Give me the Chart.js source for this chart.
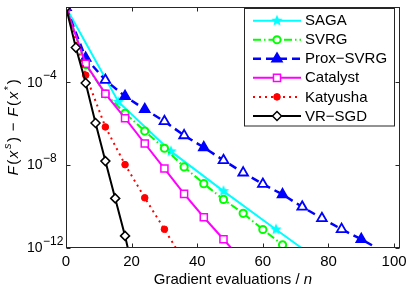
<!DOCTYPE html>
<html lang="en">
<head>
<meta charset="UTF-8">
<title>Convergence of variance reduced methods</title>
<script src="https://cdn.jsdelivr.net/npm/chart.js"></script>
<style>
    html, body { margin: 0; padding: 0; background: #fff; }
    canvas { display: block; }
</style>
</head>
<body>
<canvas id="chart" width="409" height="287"></canvas>
<script>
// values, y given as log10 of F(x^s) - F(x*)
// the last point of every series is where the line leaves the axes (no marker)
const sagaX = [0, 16, 32, 48, 64, 71.6];
const sagaLog = [-0.41, -4.97, -7.36, -9.28, -11.13, -12];
const svrgX = [0, 6, 12, 18, 24, 30, 36, 42, 48, 54, 60, 66, 67.1];
const svrgLog = [-0.41, -3.17, -4.58, -5.52, -6.38, -7.21, -8.11, -8.92, -9.68, -10.35, -11.13, -11.87, -12];
const proxX = [0, 6, 12, 18, 24, 30, 36, 42, 48, 54, 60, 66, 72, 78, 84, 90, 94.5];
const proxLog = [-0.41, -2.85, -3.92, -4.7, -5.33, -5.91, -6.59, -7.17, -7.79, -8.39, -8.94, -9.44, -10.04, -10.59, -11.12, -11.6, -12];
const catalystX = [0, 6, 12, 18, 24, 30, 36, 42, 48, 50.2];
const catalystLog = [-0.41, -3.13, -4.58, -5.76, -6.98, -8.19, -9.41, -10.54, -11.6, -12];
const katyushaX = [0, 6, 12, 18, 24, 30, 33.4];
const katyushaLog = [-0.41, -3.68, -6.18, -8.0, -9.6, -11.12, -12];
const vrsgdX = [0, 3, 6, 9, 12, 15, 18, 18.8];
const vrsgdLog = [-0.41, -2.35, -4.06, -5.99, -7.83, -9.63, -11.44, -12];

const xTicks = [0, 20, 40, 60, 80, 100];
const yTickExp = [-12, -8, -4];

const frameColor = '#262626';
const fontFamily = '"Liberation Sans", Arial, Helvetica, sans-serif';

// filled five point star like matlab's pentagram
function starImage(color, r) {
    const c = document.createElement('canvas');
    const s = Math.ceil(r * 2 + 2);
    c.width = s;
    c.height = s;
    const g = c.getContext('2d');
    g.beginPath();
    for (let k = 0; k < 10; k++) {
        const rr = k % 2 ? r * 0.45 : r;
        const a = -Math.PI / 2 + k * Math.PI / 5;
        g.lineTo(s / 2 + rr * Math.cos(a), s / 2 + rr * Math.sin(a));
    }
    g.closePath();
    g.fillStyle = color;
    g.fill();
    return c;
}

// prox-svrg markers that come out hollow in the original
const proxOpen = [2, 5, 6, 8, 9, 10, 12, 13, 14];

const series = [
    { label: 'SAGA', xs: sagaX, logs: sagaLog, color: '#00ffff', width: 2, dash: [],
      mark: starImage('#00ffff', 6), r: 5, mw: 1, fill: '#00ffff' },
    { label: 'SVRG', xs: svrgX, logs: svrgLog, color: '#00ff00', width: 2, dash: [8, 3, 1.5, 3],
      mark: 'circle', r: 3.6, mw: 2, fill: '#ffffff' },
    { label: 'Prox\u2212SVRG', xs: proxX, logs: proxLog, color: '#0000ff', width: 2.5, dash: [8, 5],
      mark: 'triangle', r: 5.6, mw: 1.8, fill: '#0000ff',
      fillAt: i => proxOpen.includes(i) ? '#ffffff' : '#0000ff' },
    { label: 'Catalyst', xs: catalystX, logs: catalystLog, color: '#ff00ff', width: 2, dash: [],
      mark: 'rect', r: 5, mw: 1.5, fill: '#ffffff' },
    { label: 'Katyusha', xs: katyushaX, logs: katyushaLog, color: '#ff0000', width: 2, dash: [2, 4],
      mark: 'circle', r: 3.3, mw: 1, fill: '#ff0000' },
    { label: 'VR\u2212SGD', xs: vrsgdX, logs: vrsgdLog, color: '#000000', width: 2, dash: [],
      mark: 'rectRot', r: 4.5, mw: 1.5, fill: '#ffffff' }
];

function pts(xs, logs) {
    return xs.map((x, i) => ({ x: x, y: Math.pow(10, logs[i]) }));
}

const datasets = series.map((s, i) => ({
    label: s.label,
    data: pts(s.xs, s.logs),
    borderColor: s.color,
    borderWidth: s.width,
    borderDash: s.dash,
    fill: false,
    tension: 0,
    order: series.length - i,
    pointStyle: s.mark,
    pointRadius: ctx => ctx.dataIndex === s.xs.length - 1 ? 0 : s.r,
    pointHoverRadius: ctx => ctx.dataIndex === s.xs.length - 1 ? 0 : s.r,
    pointBorderWidth: s.mw,
    pointBorderColor: s.color,
    pointBackgroundColor: s.fillAt ? ctx => s.fillAt(ctx.dataIndex) : s.fill
}));

// one text run after another, used for the rotated y title
function drawRuns(ctx, runs, gap) {
    let total = 0;
    runs.forEach(r => { ctx.font = r.font; r.w = ctx.measureText(r.text).width; total += r.w + gap; });
    total -= gap;
    let x = -total / 2;
    runs.forEach(r => {
        ctx.font = r.font;
        ctx.fillText(r.text, x, r.dy || 0);
        x += r.w + gap;
    });
}

const axesDecor = {
    id: 'axesDecor',
    afterDraw(chart) {
        const { ctx, chartArea: a, scales } = chart;
        const xs = scales.x, ys = scales.y;
        ctx.save();
        ctx.setLineDash([]);
        ctx.strokeStyle = frameColor;
        ctx.lineWidth = 1;

        const L = Math.round(a.left) + 0.5, R = Math.round(a.right) - 0.5;
        const T = Math.round(a.top) + 0.5, B = Math.round(a.bottom) - 0.5;
        ctx.strokeRect(L, T, R - L, B - T);

        // ticks point inwards on all four sides
        ctx.beginPath();
        xTicks.forEach(v => {
            const px = Math.round(xs.getPixelForValue(v)) + 0.5;
            ctx.moveTo(px, B); ctx.lineTo(px, B - 4);
            ctx.moveTo(px, T); ctx.lineTo(px, T + 4);
        });
        yTickExp.forEach(e => {
            const py = Math.round(ys.getPixelForValue(Math.pow(10, e))) + 0.5;
            ctx.moveTo(L, py); ctx.lineTo(L + 4, py);
            ctx.moveTo(R, py); ctx.lineTo(R - 4, py);
        });
        ctx.stroke();

        ctx.fillStyle = '#000';

        // x tick labels
        ctx.font = '15px ' + fontFamily;
        ctx.textAlign = 'center';
        ctx.textBaseline = 'middle';
        xTicks.forEach(v => ctx.fillText(String(v), xs.getPixelForValue(v), 262));

        // y tick labels, 10 with a raised exponent
        ctx.textAlign = 'left';
        yTickExp.forEach(e => {
            const py = ys.getPixelForValue(Math.pow(10, e));
            ctx.font = '14px ' + fontFamily;
            ctx.fillText('10', 27, py + 1);
            const w = ctx.measureText('10').width;
            ctx.font = '12px ' + fontFamily;
            ctx.fillText('\u2212' + Math.abs(e), 27 + w + 0.5, py - 6);
        });

        // x title
        ctx.textBaseline = 'alphabetic';
        const xt1 = 'Gradient evaluations / ';
        ctx.font = '15px ' + fontFamily;
        const w1 = ctx.measureText(xt1).width;
        ctx.font = 'italic 15px ' + fontFamily;
        const w2 = ctx.measureText('n').width;
        const cx = (a.left + a.right) / 2;
        let x0 = cx - (w1 + w2) / 2;
        ctx.font = '15px ' + fontFamily;
        ctx.fillText(xt1, x0, 284);
        ctx.font = 'italic 15px ' + fontFamily;
        ctx.fillText('n', x0 + w1, 284);

        // y title, rotated
        ctx.save();
        ctx.translate(18, (a.top + a.bottom) / 2);
        ctx.rotate(-Math.PI / 2);
        const it = 'italic 15px ' + fontFamily, up = '15px ' + fontFamily, sup = 'italic 11px ' + fontFamily;
        drawRuns(ctx, [
            { text: 'F', font: it }, { text: '(', font: up }, { text: 'x', font: it },
            { text: 's', font: sup, dy: -7 }, { text: ')', font: up },
            { text: ' \u2212 ', font: up },
            { text: 'F', font: it }, { text: '(', font: up }, { text: 'x', font: it },
            { text: '*', font: '11px ' + fontFamily, dy: -6 }, { text: ')', font: up }
        ], 1.6);
        ctx.restore();

        // legend box
        const bx = 244.5, by = 8.5, bw = 150, bh = 117.5;
        ctx.fillStyle = '#fff';
        ctx.fillRect(bx, by, bw, bh);
        ctx.strokeStyle = frameColor;
        ctx.lineWidth = 1;
        ctx.strokeRect(bx, by, bw, bh);
        series.forEach((s, i) => {
            const y = 20.7 + i * 19.05;
            ctx.setLineDash(s.dash);
            ctx.strokeStyle = s.color;
            ctx.lineWidth = s.width;
            ctx.beginPath();
            ctx.moveTo(253, y);
            ctx.lineTo(301, y);
            ctx.stroke();
            ctx.setLineDash([]);
            ctx.fillStyle = s.fill;
            ctx.lineWidth = s.mw;
            Chart.helpers.drawPoint(ctx, { pointStyle: s.mark, radius: s.r, rotation: 0, borderWidth: s.mw }, 277, y);
            ctx.fillStyle = '#000';
            ctx.font = '15px ' + fontFamily;
            ctx.textAlign = 'left';
            ctx.textBaseline = 'middle';
            ctx.fillText(s.label, 305, y + 0.5);
        });
        ctx.restore();
    }
};

new Chart(document.getElementById('chart').getContext('2d'), {
    type: 'line',
    data: { datasets: datasets },
    options: {
        responsive: false,
        animation: false,
        devicePixelRatio: 1,
        layout: { padding: { left: 66, right: 9, top: 1.5, bottom: 39.5 } },
        plugins: {
            legend: { display: false },
            tooltip: { enabled: false }
        },
        scales: {
            x: { type: 'linear', min: 0, max: 101.8, display: false },
            y: { type: 'logarithmic', min: 1e-12, max: Math.pow(10, -0.41), display: false }
        }
    },
    plugins: [axesDecor]
});
</script>
</body>
</html>
